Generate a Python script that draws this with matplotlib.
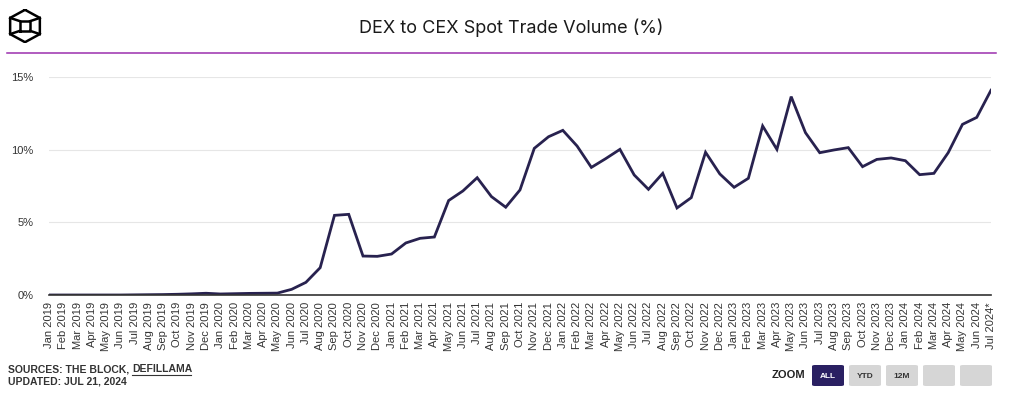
###############################################################################
# DEX to CEX spot trade volume chart
###############################################################################

import numpy as np
import matplotlib.pyplot as plt
from matplotlib.patches import FancyBboxPatch

#Data:-------------------------------------------------------------------------

months = ["Jan", "Feb", "Mar", "Apr", "May", "Jun",
          "Jul", "Aug", "Sep", "Oct", "Nov", "Dec"]
years = [2019, 2020, 2021, 2022, 2023, 2024]
labels = [f"{m} {y}" for y in years for m in months][:67]
labels[-1] = "Jul 2024*"

dex_cex = [
    0.00, 0.00, 0.00, 0.00, 0.00, 0.00, 0.01, 0.02, 0.03, 0.05, 0.08, 0.12,
    0.07, 0.09, 0.11, 0.12, 0.13, 0.39, 0.87, 1.88, 5.48, 5.55, 2.68, 2.66,
    2.82, 3.58, 3.90, 3.99, 6.50, 7.16, 8.07, 6.77, 6.04, 7.23, 10.09, 10.89,
    11.33, 10.25, 8.78, 9.38, 10.02, 8.26, 7.27, 8.37, 5.99, 6.70, 9.82, 8.33,
    7.41, 8.03, 11.63, 10.02, 13.65, 11.17, 9.79, 9.98, 10.14, 8.83, 9.33, 9.43,
    9.24, 8.28, 8.37, 9.79, 11.74, 12.22, 14.09,
]

zoom_buttons = ["ALL", "YTD", "12M", "", ""]

#Figure:-----------------------------------------------------------------------

plt.rcParams['font.family'] = ['Liberation Sans', 'DejaVu Sans']

W, H = 1011, 393
fig = plt.figure(figsize=(W / 100, H / 100), dpi=100)

ax = fig.add_axes([49 / W, 1 - 295 / H, 942 / W, 218 / H])
x = np.arange(len(dex_cex))
ax.plot(x, dex_cex, color="#28224f", lw=2.0, solid_joinstyle="miter", zorder=3)

ax.set_xlim(0, len(dex_cex) - 1)
ax.set_ylim(0, 15)
ax.set_yticks([0, 5, 10, 15])
ax.set_yticklabels(["0%", "5%", "10%", "15%"])
ax.set_xticks(x)
ax.set_xticklabels(labels, rotation=90, fontsize=8, color="#333333")
ax.tick_params(axis="x", length=0, pad=5)
ax.tick_params(axis="y", length=0, pad=11, labelsize=8, labelcolor="#333333")
ax.grid(axis="y", color="#e6e6e6", lw=0.8, zorder=0)
for s in ["top", "right", "left"]:
    ax.spines[s].set_visible(False)
ax.spines["bottom"].set_color("#333333")
ax.spines["bottom"].set_linewidth(1.2)
ax.spines["bottom"].set_zorder(4)

#Header:-----------------------------------------------------------------------

fig.text(511 / W, 1 - 28 / H, "DEX to CEX Spot Trade Volume (%)",
         ha="center", va="center", fontsize=13, family=["Inter", "DejaVu Sans"],
         color="#1a1a1a")
fig.add_artist(plt.Line2D([7 / W, 996 / W], [1 - 53 / H, 1 - 53 / H],
                          color="#9b2fae", lw=1.1))

# logo: hexagon with a small cube inside
lg = fig.add_axes([7 / W, 1 - 43 / H, 36 / W, 34 / H])
ang = np.deg2rad(np.arange(90, 451, 60))
hx, hy = np.cos(ang), np.sin(ang)
lg.plot(hx, hy, color="black", lw=1.8)
sq = 0.3
lg.plot([-sq, sq, sq, -sq, -sq], [-sq, -sq, sq, sq, -sq], color="black", lw=1.8)
# spokes from square corners to the four side vertices
for k, (cx, cy) in zip([1, 2, 4, 5], [(-sq, sq), (-sq, -sq), (sq, -sq), (sq, sq)]):
    lg.plot([cx, hx[k]], [cy, hy[k]], color="black", lw=1.8)
lg.set_xlim(-1.05, 1.05)
lg.set_ylim(-1.05, 1.05)
lg.axis("off")

#Footer:-----------------------------------------------------------------------

fig.text(8 / W, 1 - 369 / H, "SOURCES: THE BLOCK,", fontsize=7.5, weight="bold",
         color="#333333", va="center")
fig.text(132 / W, 1 - 369 / H, "DEFILLAMA", fontsize=7.5, weight="bold",
         color="#333333", va="center")
fig.add_artist(plt.Line2D([132 / W, 191 / W], [1 - 375 / H, 1 - 375 / H],
                          color="#333333", lw=0.8))
fig.text(8 / W, 1 - 381 / H, "UPDATED: JUL 21, 2024", fontsize=7.5, weight="bold",
         color="#333333", va="center")

fig.text(772 / W, 1 - 375 / H, "ZOOM", fontsize=8, weight="bold",
         color="#222222", va="center")
bx = 812
for i, name in enumerate(zoom_buttons):
    fc = "#2a2062" if i == 0 else "#d6d6d6"
    tc = "white" if i == 0 else "#333333"
    fig.add_artist(FancyBboxPatch((bx / W, 1 - 386 / H), 32 / W, 21 / H,
                                  boxstyle="round,pad=0,rounding_size=0.003",
                                  transform=fig.transFigure, fc=fc, ec="none"))
    if name:
        fig.text((bx + 16) / W, 1 - 376 / H, name, fontsize=6, weight="bold",
                 color=tc, ha="center", va="center")
    bx += 37

fig.savefig("out.png", dpi=100)
